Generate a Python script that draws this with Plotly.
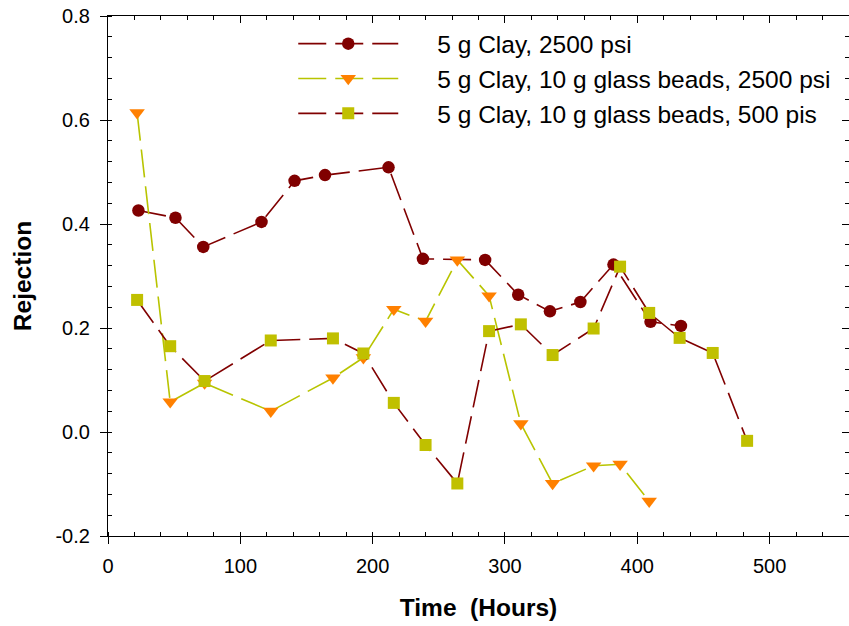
import plotly.graph_objects as go

# Series 1: 5 g Clay, 2500 psi
x1 = [23, 51, 72, 116, 141, 164, 212, 238, 285, 310, 334, 357, 382, 410, 433]
y1 = [0.426, 0.412, 0.356, 0.404, 0.483, 0.494, 0.509, 0.333, 0.331, 0.264, 0.232, 0.250, 0.322, 0.212, 0.204]

# Series 2: 5 g Clay, 10 g glass beads, 2500 psi
x2 = [22, 47, 73, 123, 170, 193, 216, 240, 264, 288, 312, 336, 367, 387, 409]
y2 = [0.614, 0.058, 0.094, 0.040, 0.104, 0.143, 0.236, 0.213, 0.331, 0.262, 0.016, -0.099, -0.065, -0.062, -0.133]

# Series 3: 5 g Clay, 10 g glass beads, 500 pis
x3 = [22, 47, 73, 123, 170, 193, 216, 240, 264, 288, 312, 336, 367, 387, 409, 432, 457, 483]
y3 = [0.254, 0.165, 0.098, 0.176, 0.180, 0.151, 0.056, -0.025, -0.099, 0.194, 0.207, 0.148, 0.199, 0.318, 0.229, 0.181, 0.152, -0.017]

names = ["5 g Clay, 2500 psi",
         "5 g Clay, 10 g glass beads, 2500 psi",
         "5 g Clay, 10 g glass beads, 500 pis"]

yticks = [-0.2, 0.0, 0.2, 0.4, 0.6, 0.8]
yticktext = ["-0.2", "0.0", "0.2", "0.4", "0.6", "0.8"]
xticks = [0, 100, 200, 300, 400, 500]

DARK = "#800000"
OLIVE = "#c0c000"
LIME = "#b8c400"
ORANGE = "#ff8000"
DASH = "28px,9px"
FONT = "Liberation Sans, Arial, sans-serif"
PAD = "\u00a0" * 5

fig = go.Figure()
fig.add_trace(go.Scatter(x=x1, y=y1, name=PAD + names[0], mode="lines+markers",
                         line=dict(color=DARK, width=1.6, dash=DASH),
                         marker=dict(symbol="circle", size=12.5, color=DARK)))
fig.add_trace(go.Scatter(x=x2, y=y2, name=PAD + names[1], mode="lines+markers",
                         line=dict(color=LIME, width=1.6, dash=DASH),
                         marker=dict(symbol="triangle-down", size=13.5, color=ORANGE)))
fig.add_trace(go.Scatter(x=x3, y=y3, name=PAD + names[2], mode="lines+markers",
                         line=dict(color=DARK, width=1.6, dash=DASH),
                         marker=dict(symbol="square", size=12, color=OLIVE)))
# helper trace to create mirrored frame axes
fig.add_trace(go.Scatter(x=[None], y=[None], xaxis="x2", yaxis="y2",
                         showlegend=False, hoverinfo="skip"))

common = dict(showgrid=False, zeroline=False, showline=True, linecolor="black",
              linewidth=1.2, tickcolor="black", tickwidth=1.2)

fig.update_layout(
    width=849, height=626,
    margin=dict(l=108, r=0, t=16, b=90),
    paper_bgcolor="white", plot_bgcolor="white",
    font=dict(family=FONT, color="black"),
    xaxis=dict(range=[0, 560], tickvals=xticks, ticks="outside", ticklen=7,
               tickfont=dict(size=20), ticklabelstandoff=5,
               minor=dict(dtick=20, ticks="inside", ticklen=4, tickcolor="black", tickwidth=1),
               title=dict(text="<b>Time\u00a0 (Hours)</b>", font=dict(size=24.5), standoff=22),
               **common),
    yaxis=dict(range=[-0.2, 0.8], tickvals=yticks, ticktext=yticktext, ticks="outside",
               ticklen=7, tickfont=dict(size=20), ticklabelstandoff=6,
               minor=dict(dtick=0.04, tick0=0, ticks="inside", ticklen=4, tickcolor="black", tickwidth=1),
               title=dict(text="<b>Rejection</b>", font=dict(size=24.5), standoff=16),
               **common),
    xaxis2=dict(overlaying="x", matches="x", side="top", range=[0, 560], tickvals=xticks,
                ticks="inside", ticklen=7, showticklabels=False,
                minor=dict(dtick=20, ticks="inside", ticklen=4, tickcolor="black", tickwidth=1),
                **common),
    yaxis2=dict(overlaying="y", matches="y", side="right", range=[-0.2, 0.8], tickvals=yticks,
                ticks="inside", ticklen=7, showticklabels=False,
                minor=dict(dtick=0.04, tick0=0, ticks="inside", ticklen=4, tickcolor="black", tickwidth=1),
                **common),
    legend=dict(x=0.25, y=0.99, xanchor="left", yanchor="top",
                font=dict(size=24.5, family=FONT), bgcolor="rgba(0,0,0,0)",
                itemwidth=100, tracegroupgap=0),
    showlegend=True,
)

fig.write_html("out.html")
